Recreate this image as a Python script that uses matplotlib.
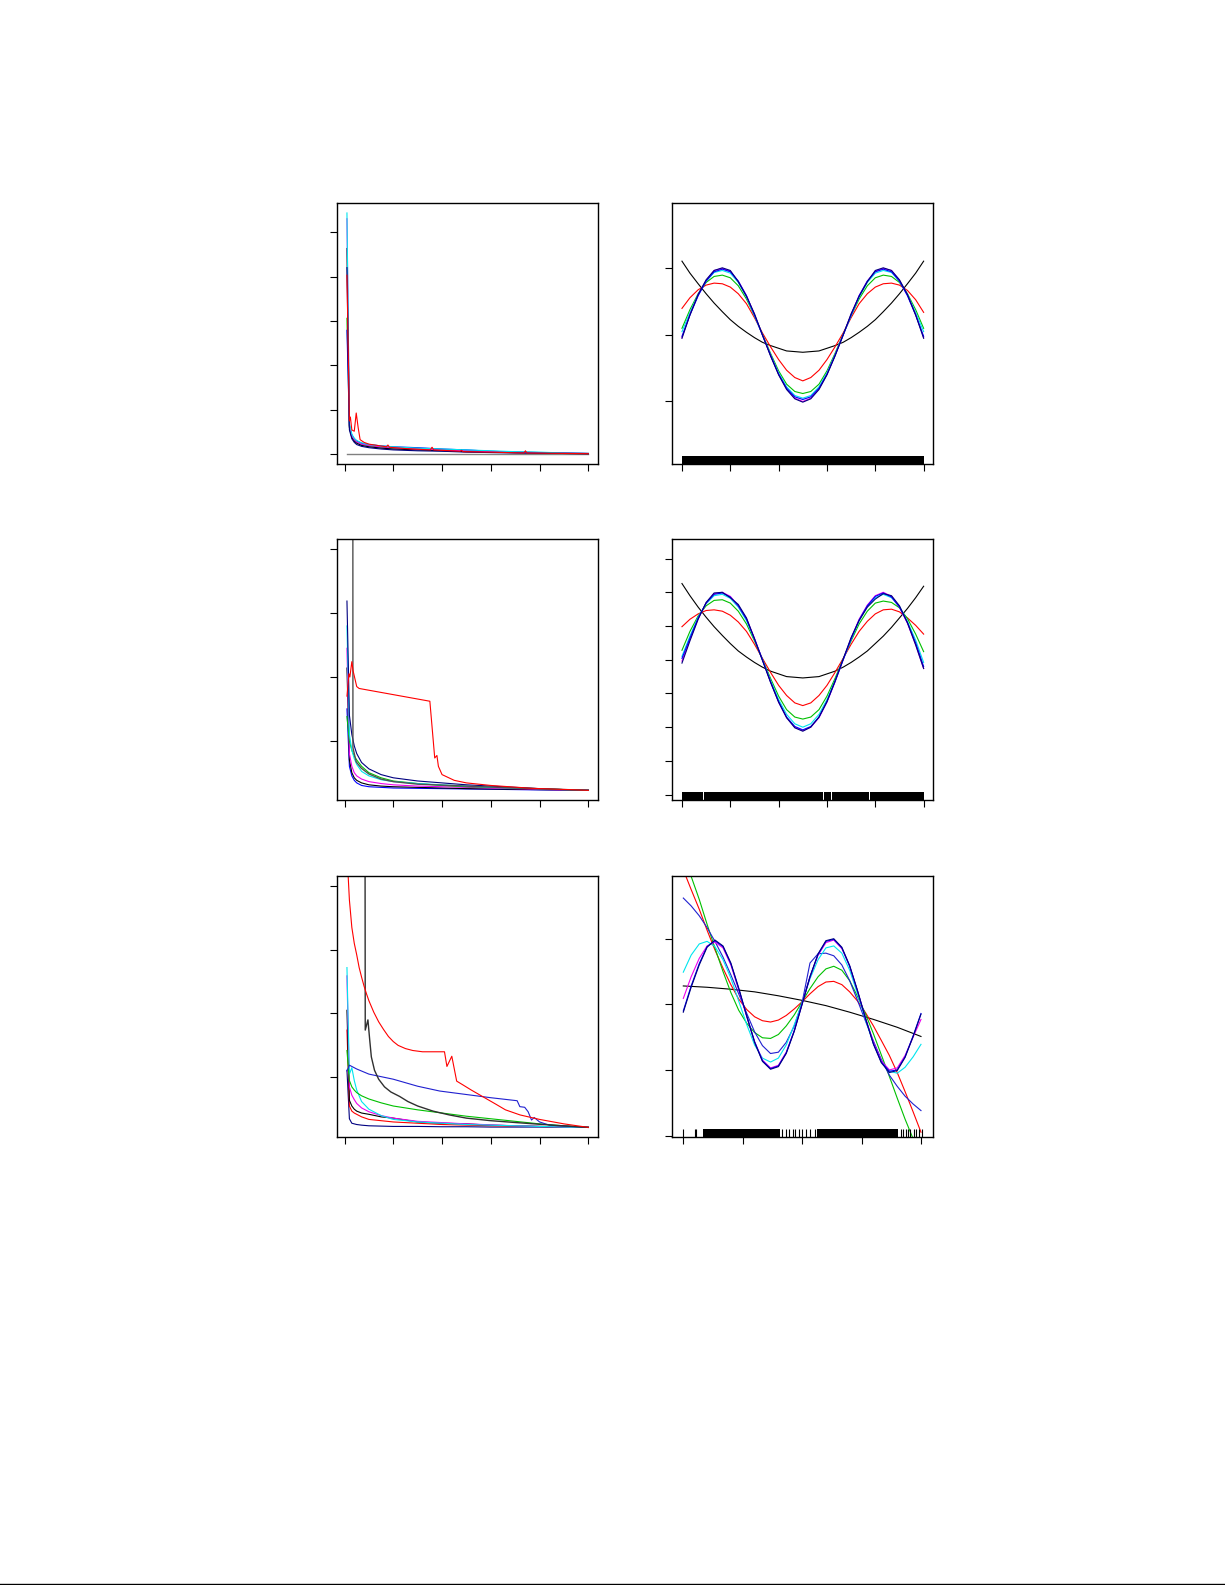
import matplotlib
matplotlib.use("Agg")
import matplotlib.pyplot as plt
from matplotlib.lines import Line2D

# figure size in pixels (saved at dpi=100)
FIG_W, FIG_H = 1225, 1585

# R-like palette
BLACK = "black"
RED = "#FF0000"
GREEN = "#00C000"
BLUE = "#0000FF"
CYAN = "#00E5EE"
MAGENTA = "#EE00EE"
NAVY = "#000080"
GRAY = "#808080"

# ---------------- left column: decay curves (iteration 1..100) ----------------
ITER = [1, 2, 3, 4, 5, 7, 10, 15, 20, 30, 40, 50, 60, 70, 80, 90, 100]
ITER_TICKS = [0, 20, 40, 60, 80, 100]

# panel 1
p1_cyan = [5.43, 0.70, 0.45, 0.36, 0.31, 0.26, 0.22, 0.19, 0.17, 0.14, 0.12, 0.10, 0.08, 0.06, 0.05, 0.03, 0.02]
p1_magenta = [5.30, 0.66, 0.42, 0.33, 0.28, 0.23, 0.20, 0.17, 0.15, 0.12, 0.10, 0.08, 0.06, 0.05, 0.04, 0.03, 0.02]
p1_black = [4.63, 0.60, 0.38, 0.30, 0.25, 0.20, 0.17, 0.14, 0.12, 0.10, 0.08, 0.06, 0.05, 0.04, 0.03, 0.02, 0.015]
p1_green = [3.06, 0.62, 0.40, 0.31, 0.27, 0.22, 0.19, 0.16, 0.14, 0.12, 0.11, 0.08, 0.06, 0.05, 0.04, 0.03, 0.02]
p1_blue = [2.79, 0.64, 0.44, 0.35, 0.30, 0.25, 0.22, 0.19, 0.17, 0.15, 0.12, 0.10, 0.07, 0.05, 0.04, 0.03, 0.02]
p1_navy = [4.20, 0.55, 0.35, 0.27, 0.22, 0.18, 0.15, 0.12, 0.10, 0.08, 0.07, 0.05, 0.04, 0.03, 0.025, 0.02, 0.015]
p1_red_x = [1, 2, 2.4, 3, 4, 4.8, 5.6, 6.4, 8, 10, 17.2, 17.8, 18.4, 25, 35.2, 35.9, 36.6,
            47.4, 48, 48.6, 60, 73.6, 74.2, 74.8, 100]
p1_red_y = [4.03, 0.75, 0.84, 0.55, 0.52, 0.93, 0.60, 0.33, 0.27, 0.23, 0.17, 0.21, 0.16, 0.13, 0.10, 0.16, 0.10,
            0.07, 0.09, 0.06, 0.05, 0.03, 0.08, 0.03, 0.015]
p1_base_x = [1, 100]
p1_base_y = [0.0, 0.0]

# panel 3
p3_cyan = [2.80, 1.10, 0.85, 0.72, 0.63, 0.52, 0.45, 0.39, 0.36, 0.33, 0.31, 0.29, 0.27, 0.26, 0.25, 0.235, 0.224]
p3_magenta = [2.45, 0.80, 0.60, 0.50, 0.45, 0.40, 0.36, 0.33, 0.31, 0.29, 0.28, 0.27, 0.26, 0.25, 0.24, 0.23, 0.224]
p3_black = [2.14, 0.70, 0.50, 0.42, 0.38, 0.34, 0.31, 0.29, 0.28, 0.27, 0.26, 0.25, 0.245, 0.24, 0.235, 0.23, 0.224]
p3_green = [1.38, 1.00, 0.85, 0.76, 0.70, 0.60, 0.50, 0.42, 0.37, 0.33, 0.30, 0.28, 0.27, 0.26, 0.25, 0.235, 0.224]
p3_blue = [1.50, 0.60, 0.45, 0.38, 0.34, 0.30, 0.28, 0.27, 0.26, 0.255, 0.25, 0.245, 0.24, 0.235, 0.23, 0.227, 0.224]
p3_navy = [3.19, 1.40, 1.10, 0.92, 0.80, 0.66, 0.56, 0.47, 0.42, 0.37, 0.34, 0.31, 0.29, 0.27, 0.25, 0.235, 0.224]
p3_red_x = [1, 1.8, 2.2, 3, 3.5, 5, 6, 35, 37, 37.9, 38.5, 40, 45, 50, 60, 77, 100]
p3_red_y = [1.70, 2.05, 2.00, 2.24, 2.10, 1.85, 1.82, 1.62, 0.73, 0.77, 0.60, 0.47, 0.38, 0.34, 0.30, 0.255, 0.224]
p3_spike_x = [3.2, 3.45, 4.8, 6.9, 10, 15, 20, 30, 50, 70, 100]
p3_spike_y = [30.0, 0.89, 0.67, 0.57, 0.48, 0.40, 0.36, 0.32, 0.29, 0.26, 0.224]

# panel 5
p5_red_x = [1, 1.5, 2, 3, 4, 5, 6, 7, 8, 9, 10, 12, 14, 16, 18, 20, 22, 25, 28, 32,
            41, 42, 44, 46, 48.6, 52, 57, 62, 66, 72, 80, 90, 100]
p5_red_y = [4.60, 4.15, 3.78, 3.35, 3.10, 2.92, 2.72, 2.57, 2.43, 2.31, 2.20, 2.02, 1.87, 1.75, 1.64, 1.56,
            1.50, 1.45, 1.42, 1.40, 1.40, 1.17, 1.33, 0.94, 0.88, 0.80, 0.69, 0.58, 0.49, 0.41, 0.34, 0.27, 0.215]
p5_spike_x = [8.0, 8.5, 9.6, 10.3, 11, 12.3, 14, 16.4, 19, 22.6, 26, 30, 36.3, 43, 50, 60, 70.5, 85, 100]
p5_spike_y = [20.0, 1.74, 1.90, 1.60, 1.32, 1.11, 0.97, 0.85, 0.77, 0.70, 0.62, 0.55, 0.47, 0.41, 0.36, 0.32,
              0.29, 0.25, 0.215]
p5_slate_x = [1, 2, 5, 10, 20, 30, 39, 50, 60, 70.8, 71.9, 73.9, 75.3, 76.7, 77.8, 80, 84, 100]
p5_slate_y = [1.10, 1.19, 1.13, 1.05, 0.97, 0.86, 0.785, 0.73, 0.68, 0.633, 0.54, 0.53, 0.46, 0.33, 0.37, 0.30,
              0.25, 0.215]
p5_green = [1.42, 0.95, 0.85, 0.80, 0.76, 0.71, 0.66, 0.60, 0.55, 0.49, 0.44, 0.39, 0.35, 0.31, 0.27, 0.24, 0.215]
p5_cyan = [2.72, 1.05, 1.15, 0.95, 0.80, 0.62, 0.50, 0.40, 0.34, 0.30, 0.28, 0.26, 0.25, 0.24, 0.23, 0.22, 0.215]
p5_magenta = [2.59, 0.85, 0.72, 0.65, 0.59, 0.52, 0.46, 0.40, 0.36, 0.31, 0.29, 0.27, 0.255, 0.24, 0.23, 0.22, 0.215]
p5_black = [2.05, 0.64, 0.55, 0.50, 0.47, 0.44, 0.42, 0.38, 0.36, 0.30, 0.28, 0.27, 0.25, 0.24, 0.23, 0.22, 0.215]
p5_red2 = [1.74, 0.55, 0.47, 0.44, 0.42, 0.38, 0.34, 0.32, 0.30, 0.28, 0.26, 0.25, 0.24, 0.235, 0.23, 0.22, 0.215]
p5_navy = [1.11, 0.35, 0.28, 0.27, 0.26, 0.25, 0.24, 0.235, 0.23, 0.23, 0.225, 0.225, 0.22, 0.22, 0.22, 0.218, 0.215]

# ---------------- right column: fitted curves ----------------
XF = [0.0, 0.033, 0.067, 0.1, 0.133, 0.167, 0.2, 0.233, 0.267, 0.3, 0.333, 0.367, 0.4, 0.433, 0.467, 0.5,
      0.533, 0.567, 0.6, 0.633, 0.667, 0.7, 0.733, 0.767, 0.8, 0.833, 0.867, 0.9, 0.933, 0.967, 1.0]
XF_TICKS = [0, 0.2, 0.4, 0.6, 0.8, 1.0]

# panel 2
p2_black = [1.11, 0.93, 0.77, 0.62, 0.48, 0.35, 0.23, 0.13, 0.04, -0.04, -0.11, -0.16, -0.20, -0.24, -0.25, -0.26,
            -0.25, -0.24, -0.20, -0.16, -0.11, -0.04, 0.04, 0.13, 0.23, 0.35, 0.48, 0.62, 0.77, 0.93, 1.11]
p2_red = [0.40, 0.56, 0.68, 0.75, 0.78, 0.77, 0.72, 0.62, 0.47, 0.26, 0.03, -0.18, -0.37, -0.53, -0.64, -0.69,
          -0.64, -0.53, -0.37, -0.18, 0.03, 0.26, 0.47, 0.62, 0.72, 0.77, 0.78, 0.75, 0.67, 0.53, 0.34]
p2_green = [0.10, 0.38, 0.62, 0.79, 0.88, 0.90, 0.86, 0.74, 0.54, 0.29, 0.01, -0.28, -0.54, -0.74, -0.85, -0.88,
            -0.85, -0.74, -0.54, -0.28, 0.01, 0.29, 0.54, 0.74, 0.86, 0.90, 0.88, 0.79, 0.62, 0.38, 0.10]
p2_blue = [-0.02, 0.30, 0.59, 0.81, 0.95, 0.99, 0.95, 0.81, 0.59, 0.30, 0.0, -0.31, -0.59, -0.80, -0.93, -0.97,
           -0.93, -0.80, -0.59, -0.31, 0.0, 0.30, 0.59, 0.81, 0.95, 0.99, 0.95, 0.81, 0.59, 0.30, -0.02]
p2_cyan = [0.05, 0.34, 0.61, 0.81, 0.94, 0.97, 0.93, 0.79, 0.57, 0.29, 0.0, -0.30, -0.57, -0.78, -0.91, -0.95,
           -0.91, -0.78, -0.57, -0.30, 0.0, 0.29, 0.57, 0.79, 0.93, 0.97, 0.94, 0.81, 0.61, 0.34, 0.05]
p2_magenta = [-0.04, 0.31, 0.60, 0.82, 0.97, 1.00, 0.96, 0.81, 0.59, 0.31, 0.0, -0.31, -0.59, -0.81, -0.95, -1.00,
              -0.95, -0.81, -0.59, -0.31, 0.0, 0.31, 0.59, 0.81, 0.96, 1.00, 0.97, 0.82, 0.60, 0.31, -0.04]
p2_navy = [-0.05, 0.30, 0.61, 0.83, 0.97, 1.01, 0.97, 0.80, 0.58, 0.32, 0.0, -0.32, -0.60, -0.82, -0.96, -1.01,
           -0.96, -0.82, -0.60, -0.32, 0.0, 0.32, 0.58, 0.80, 0.97, 1.01, 0.97, 0.83, 0.61, 0.30, -0.05]
p2_rug_spans = [(0.0, 1.0)]

# panel 4
p4_black = [1.13, 0.95, 0.78, 0.63, 0.49, 0.36, 0.24, 0.13, 0.04, -0.04, -0.11, -0.17, -0.21, -0.25, -0.26, -0.27,
            -0.26, -0.25, -0.21, -0.17, -0.11, -0.04, 0.04, 0.13, 0.24, 0.35, 0.48, 0.62, 0.76, 0.92, 1.09]
p4_red = [0.49, 0.60, 0.68, 0.73, 0.74, 0.72, 0.66, 0.56, 0.42, 0.23, 0.02, -0.19, -0.38, -0.53, -0.64, -0.68,
          -0.64, -0.53, -0.38, -0.19, 0.02, 0.23, 0.42, 0.57, 0.68, 0.74, 0.75, 0.71, 0.62, 0.51, 0.38]
p4_green = [0.14, 0.42, 0.65, 0.80, 0.88, 0.89, 0.84, 0.72, 0.53, 0.28, 0.01, -0.28, -0.54, -0.74, -0.85, -0.88,
            -0.85, -0.74, -0.54, -0.28, 0.01, 0.28, 0.53, 0.72, 0.84, 0.87, 0.85, 0.77, 0.61, 0.38, 0.12]
p4_blue = [0.02, 0.32, 0.62, 0.84, 0.97, 0.99, 0.93, 0.80, 0.60, 0.31, 0.0, -0.33, -0.62, -0.85, -0.99, -1.04,
           -0.99, -0.85, -0.62, -0.33, 0.0, 0.31, 0.59, 0.80, 0.94, 0.99, 0.93, 0.78, 0.55, 0.25, -0.10]
p4_cyan = [0.05, 0.35, 0.63, 0.83, 0.95, 0.97, 0.91, 0.78, 0.58, 0.30, 0.0, -0.31, -0.59, -0.81, -0.95, -1.00,
           -0.95, -0.81, -0.59, -0.31, 0.0, 0.30, 0.58, 0.79, 0.92, 0.97, 0.92, 0.79, 0.57, 0.29, -0.04]
p4_magenta = [-0.02, 0.30, 0.61, 0.84, 0.98, 1.00, 0.94, 0.80, 0.61, 0.32, 0.0, -0.33, -0.63, -0.86, -1.00, -1.05,
              -1.00, -0.86, -0.63, -0.33, 0.0, 0.32, 0.60, 0.81, 0.95, 1.00, 0.94, 0.78, 0.54, 0.22, -0.13]
p4_navy = [-0.05, 0.28, 0.60, 0.85, 0.99, 1.00, 0.92, 0.82, 0.62, 0.31, -0.01, -0.34, -0.63, -0.86, -1.01, -1.06,
           -1.00, -0.85, -0.62, -0.32, 0.01, 0.33, 0.58, 0.78, 0.90, 0.98, 0.95, 0.80, 0.55, 0.22, -0.13]
p4_rug_spans = [(0.0, 0.086), (0.090, 0.583), (0.587, 0.615), (0.619, 0.774), (0.778, 1.0)]

# panel 6
p6_black_x = [0.0, 0.1, 0.2, 0.3, 0.4, 0.5, 0.6, 0.7, 0.8, 0.9, 1.0]
p6_black = [0.28, 0.26, 0.23, 0.19, 0.13, 0.06, -0.02, -0.12, -0.23, -0.35, -0.49]
p6_red = [2.05, 1.75, 1.45, 1.13, 0.83, 0.55, 0.30, 0.08, -0.08, -0.19, -0.25, -0.27, -0.24, -0.17, -0.07, 0.04,
          0.16, 0.27, 0.34, 0.35, 0.30, 0.19, 0.05, -0.13, -0.33, -0.55, -0.78, -1.04, -1.33, -1.64, -1.95]
p6_green = [2.25, 1.95, 1.60, 1.22, 0.86, 0.50, 0.18, -0.09, -0.29, -0.43, -0.51, -0.52, -0.46, -0.33, -0.16, 0.04,
            0.24, 0.42, 0.54, 0.58, 0.52, 0.36, 0.12, -0.15, -0.45, -0.77, -1.10, -1.43, -1.75, -2.05, -2.35]
p6_slate = [1.62, 1.50, 1.35, 1.17, 0.96, 0.72, 0.45, 0.16, -0.14, -0.42, -0.63, -0.75, -0.73, -0.58, -0.33, 0.03,
            0.63, 0.77, 0.78, 0.74, 0.60, 0.36, 0.06, -0.26, -0.56, -0.84, -1.08, -1.25, -1.40, -1.52, -1.62]
p6_cyan = [0.49, 0.75, 0.92, 0.96, 0.88, 0.68, 0.40, 0.05, -0.31, -0.62, -0.82, -0.88, -0.82, -0.62, -0.31, 0.03,
           0.39, 0.68, 0.86, 0.89, 0.78, 0.52, 0.16, -0.24, -0.60, -0.87, -1.02, -1.05, -0.96, -0.80, -0.61]
p6_magenta = [0.09, 0.42, 0.70, 0.89, 0.95, 0.86, 0.60, 0.22, -0.19, -0.57, -0.85, -0.97, -0.93, -0.73, -0.40, 0.01,
              0.42, 0.75, 0.94, 0.98, 0.85, 0.58, 0.20, -0.21, -0.58, -0.86, -1.00, -0.97, -0.78, -0.50, -0.23]
p6_blue = [-0.10, 0.28, 0.62, 0.88, 0.97, 0.88, 0.62, 0.24, -0.18, -0.57, -0.86, -0.98, -0.94, -0.74, -0.40, 0.01,
           0.42, 0.76, 0.96, 0.99, 0.86, 0.58, 0.20, -0.22, -0.60, -0.88, -1.02, -1.00, -0.80, -0.48, -0.14]
p6_navy = [-0.12, 0.26, 0.60, 0.87, 0.98, 0.89, 0.63, 0.25, -0.18, -0.58, -0.87, -0.99, -0.95, -0.75, -0.41, 0.0,
           0.42, 0.77, 0.97, 1.00, 0.87, 0.59, 0.21, -0.22, -0.61, -0.89, -1.04, -1.01, -0.81, -0.49, -0.15]
p6_rug_spans = [(0.084, 0.407), (0.561, 0.905)]
p6_rug_ticks = [0.0, 0.048, 0.053, 0.415, 0.43, 0.445, 0.46, 0.47, 0.485, 0.50, 0.515, 0.535, 0.555,
                0.915, 0.925, 0.935, 0.945, 0.955, 0.97, 0.98, 0.99, 1.005]


def px_rect(x0, y0, x1, y1):
    """Convert a pixel box (top-left origin) to a figure-fraction rect."""
    return [x0 / FIG_W, 1 - y1 / FIG_H, (x1 - x0) / FIG_W, (y1 - y0) / FIG_H]


def style_axes(ax, xticks, yticks, xlim, ylim):
    ax.set_xlim(*xlim)
    ax.set_ylim(*ylim)
    ax.set_xticks(xticks)
    ax.set_yticks(yticks)
    ax.tick_params(direction="out", length=5, width=0.8, labelbottom=False, labelleft=False)
    for sp in ax.spines.values():
        sp.set_linewidth(1.0)


def draw_rug(ax, spans, ticks=(), height=0.031):
    tr = ax.get_xaxis_transform()
    ax.broken_barh([(a, b - a) for a, b in spans], (0, height), transform=tr,
                   facecolor="black", edgecolor="none")
    if ticks:
        ax.vlines(ticks, 0, height, transform=tr, color="black", lw=0.8)


def main():
    fig = plt.figure(figsize=(FIG_W / 100, FIG_H / 100), dpi=100)
    lw = 0.8
    left_xlim = (-2.96, 103.96)

    # panel 1
    ax = fig.add_axes(px_rect(337.3, 203.3, 598, 464))
    ax.plot(p1_base_x, p1_base_y, color=GRAY, lw=1.0)
    for ys, c in [(p1_green, GREEN), (p1_blue, BLUE), (p1_black, BLACK), (p1_magenta, MAGENTA),
                  (p1_cyan, CYAN), (p1_navy, NAVY)]:
        ax.plot(ITER, ys, color=c, lw=lw)
    ax.plot(p1_red_x, p1_red_y, color=RED, lw=lw)
    style_axes(ax, ITER_TICKS, [0, 1, 2, 3, 4, 5], left_xlim, (-0.217, 5.647))

    # panel 2
    ax = fig.add_axes(px_rect(672.3, 203.3, 933.3, 464))
    for ys, c in [(p2_black, BLACK), (p2_red, RED), (p2_green, GREEN), (p2_cyan, CYAN),
                  (p2_magenta, MAGENTA), (p2_blue, BLUE), (p2_navy, NAVY)]:
        ax.plot(XF, ys, color=c, lw=lw)
    draw_rug(ax, p2_rug_spans)
    style_axes(ax, XF_TICKS, [-1, 0, 1], (-0.04, 1.04), (-1.94, 1.98))

    # panel 3
    ax = fig.add_axes(px_rect(337.3, 539.3, 598, 800))
    for ys, c in [(p3_blue, BLUE), (p3_black, BLACK), (p3_magenta, MAGENTA), (p3_green, GREEN),
                  (p3_cyan, CYAN), (p3_navy, NAVY)]:
        ax.plot(ITER, ys, color=c, lw=lw)
    ax.plot(p3_spike_x, p3_spike_y, color="#505050", lw=1.0)
    ax.plot(p3_red_x, p3_red_y, color=RED, lw=lw)
    style_axes(ax, ITER_TICKS, [1, 2, 3, 4], left_xlim, (0.072, 4.158))

    # panel 4
    ax = fig.add_axes(px_rect(672.3, 539.3, 933.3, 800))
    for ys, c in [(p4_black, BLACK), (p4_red, RED), (p4_green, GREEN), (p4_cyan, CYAN),
                  (p4_magenta, MAGENTA), (p4_blue, BLUE), (p4_navy, NAVY)]:
        ax.plot(XF, ys, color=c, lw=lw)
    draw_rug(ax, p4_rug_spans, height=0.032)
    style_axes(ax, XF_TICKS, [-2, -1.5, -1, -0.5, 0, 0.5, 1, 1.5], (-0.04, 1.04), (-2.08, 1.786))

    # panel 5
    ax = fig.add_axes(px_rect(337.3, 876, 598, 1136.7))
    for ys, c in [(p5_navy, NAVY), (p5_red2, RED), (p5_black, BLACK), (p5_magenta, MAGENTA),
                  (p5_cyan, CYAN), (p5_green, GREEN)]:
        ax.plot(ITER, ys, color=c, lw=lw)
    ax.plot(p5_slate_x, p5_slate_y, color="#2020D0", lw=lw)
    ax.plot(p5_spike_x, p5_spike_y, color="#303030", lw=1.0)
    ax.plot(p5_red_x, p5_red_y, color=RED, lw=lw)
    style_axes(ax, ITER_TICKS, [1, 2, 3, 4], left_xlim, (0.069, 4.155))

    # panel 6
    ax = fig.add_axes(px_rect(672.3, 876, 933.3, 1136.7))
    ax.plot(p6_black_x, p6_black, color=BLACK, lw=lw)
    for ys, c in [(p6_red, RED), (p6_green, GREEN), (p6_slate, "#2020D0"), (p6_cyan, CYAN),
                  (p6_magenta, MAGENTA), (p6_blue, BLUE), (p6_navy, NAVY)]:
        ax.plot(XF, ys, color=c, lw=lw)
    draw_rug(ax, p6_rug_spans, p6_rug_ticks, height=0.028)
    style_axes(ax, [0, 0.25, 0.5, 0.75, 1.0], [-2, -1, 0, 1], (-0.0463, 1.0518), (-2.018, 1.956))

    # thin rule along the bottom of the page
    yb = 1 - 1583.5 / FIG_H
    fig.add_artist(Line2D([0, 1], [yb, yb], color="black", lw=1.0))

    fig.savefig("out.png", dpi=100)
    plt.close(fig)


if __name__ == "__main__":
    main()
